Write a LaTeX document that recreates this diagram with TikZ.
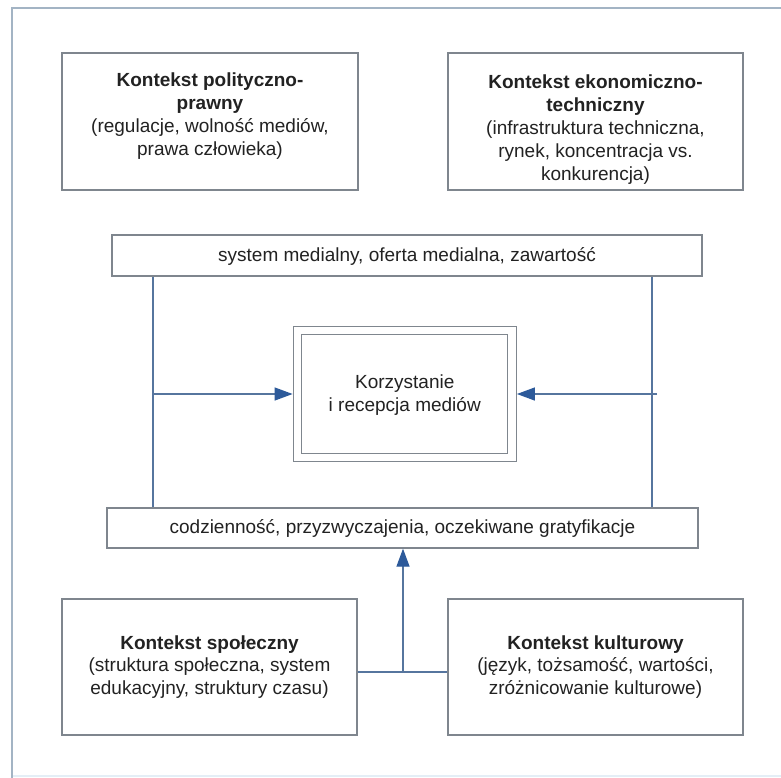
\documentclass[tikz,border=0pt]{standalone}
\usepackage{fontspec}
\setmainfont{Liberation Sans}
\usetikzlibrary{arrows.meta}
\definecolor{boxgray}{HTML}{7F868E}
\definecolor{linecol}{HTML}{56759E}
\definecolor{tipcol}{HTML}{2D5A9A}
\definecolor{framecol}{HTML}{A3B4C4}
\definecolor{faintcol}{HTML}{E4EEF6}
\definecolor{txtcol}{HTML}{222222}
\tikzset{
  box/.style={draw=boxgray, line width=1.3pt, fill=white, rectangle, inner sep=0pt},
  txt/.style={align=center, text=txtcol, font=\fontsize{19}{22.8}\selectfont, inner sep=0pt},
  conn/.style={draw=linecol, line width=1.3pt},
  arr/.style={conn, -{Triangle[length=18pt, width=13pt, fill=tipcol, color=tipcol]}}
}
\begin{document}
\begin{tikzpicture}[x=1pt,y=-1pt]
\useasboundingbox (0,0) rectangle (781,777);
\fill[white] (0,0) rectangle (781,777);
\begin{scope}
\clip (0,0) rectangle (781,777);
\draw[faintcol, line width=1.5pt] (12,776) -- (781,776);
\draw[framecol, line width=1.3pt] (800,8) -- (12,8) -- (12,790);
\end{scope}

% top boxes
\node[box, minimum width=296pt, minimum height=137pt] (pol) at (210,121.5) {};
\node[txt, anchor=north] (polt) at (210,73) {\textbf{Kontekst polityczno-}\\\textbf{prawny}\\(regulacje, wolność mediów,\\prawa człowieka)};
\node[box, minimum width=295pt, minimum height=137pt] (eko) at (595.5,121.5) {};
\node[txt, anchor=north] (ekot) at (595.5,75) {\textbf{Kontekst ekonomiczno-}\\\textbf{techniczny}\\(infrastruktura techniczna,\\rynek, koncentracja vs.\\konkurencja)};

% system box
\node[box, minimum width=590pt, minimum height=41pt] (sys) at (407,255.5) {};
\node[txt] (syst) at (407,256) {system medialny, oferta medialna, zawartość};

% central double box
\node[draw=boxgray, line width=1.3pt, double=white, double distance=7.2pt, fill=white,
      minimum width=214.5pt, minimum height=127pt, outer sep=4.9pt] (core) at (404.75,394) {};
\node[txt] (coret) at (404.75,395) {Korzystanie\\i recepcja mediów};

% codziennosc box
\node[box, minimum width=591pt, minimum height=40pt] (codz) at (402.5,528) {};
\node[txt] (codzt) at (402.5,528.5) {codzienność, przyzwyczajenia, oczekiwane gratyfikacje};

% bottom boxes
\node[box, minimum width=295pt, minimum height=136pt] (soc) at (209.5,667) {};
\node[txt] (soct) at (209.5,667) {\textbf{Kontekst społeczny}\\(struktura społeczna, system\\edukacyjny, struktury czasu)};
\node[box, minimum width=295pt, minimum height=136pt] (kul) at (595.5,667) {};
\node[txt] (kult) at (595.5,667) {\textbf{Kontekst kulturowy}\\(język, tożsamość, wartości,\\zróżnicowanie kulturowe)};

% connectors
\coordinate (L) at (153,394);
\coordinate (R) at (652,394);
\coordinate (Rs) at (657,394);
\coordinate (J) at (403,672);
\draw[conn] (sys.south -| L) -- (codz.north -| L);
\draw[conn] (sys.south -| R) -- (codz.north -| R);
\draw[arr] (L) -- (core.west);
\draw[arr] (Rs) -- (core.east);
\draw[conn] (soc.east |- J) -- (kul.west |- J);
\draw[arr] (J) -- (codz.south -| J);
\end{tikzpicture}
\end{document}
